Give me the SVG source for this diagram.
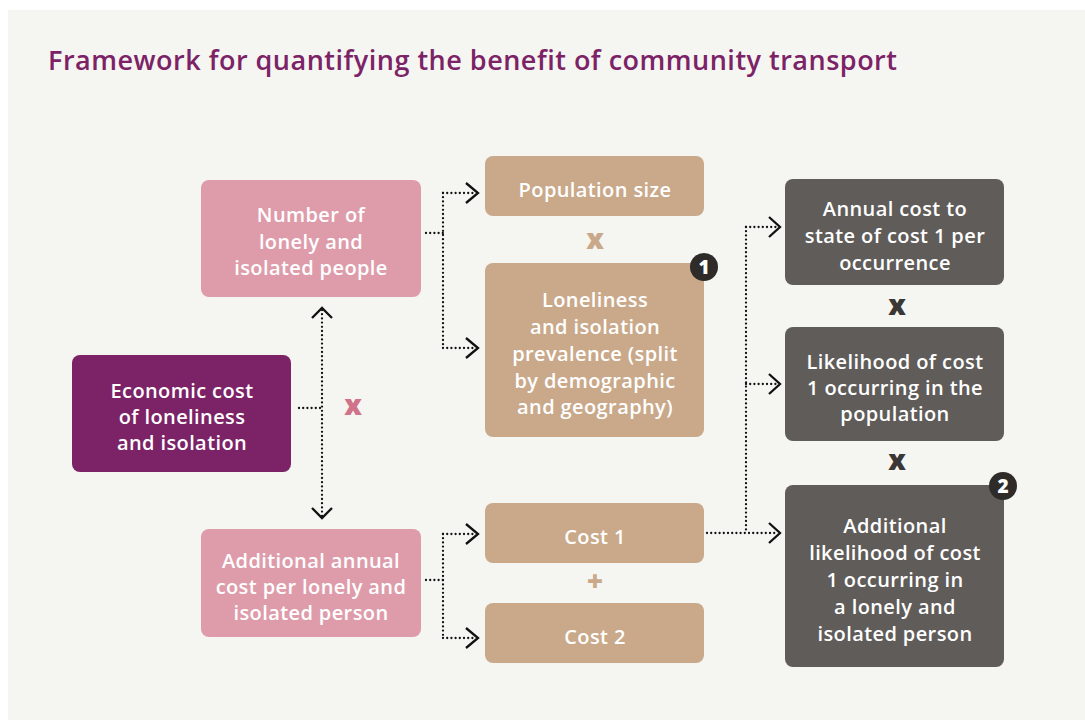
<svg xmlns="http://www.w3.org/2000/svg" width="1085" height="720" viewBox="0 0 1085 720">
<style>
.t{font-family:"Open Sans","Liberation Sans",sans-serif;font-weight:600;fill:#fff;font-size:20px;letter-spacing:0.4px;text-anchor:middle}
.op{font-family:"Open Sans","Liberation Sans",sans-serif;font-weight:800;font-size:28px;text-anchor:middle}
.dot{fill:none;stroke:#111;stroke-width:2.3;stroke-linecap:round;stroke-dasharray:0 4.2}
.ah{fill:none;stroke:#111;stroke-width:2.3;stroke-linejoin:miter}
.pink{fill:#de9cab}.purple{fill:#7c2266}.tan{fill:#c9a98a}.grey{fill:#5f5c59}
.badge{fill:#2f2b29}
.bt{font-family:"Open Sans","Liberation Sans",sans-serif;font-weight:800;font-size:19px;fill:#fff;text-anchor:middle}
</style>
<rect width="1085" height="720" fill="#ffffff"/>
<rect x="8" y="10" width="1077" height="710" fill="#f5f5f1"/>
<text x="48" y="70" font-family="'Open Sans','Liberation Sans',sans-serif" font-weight="600" font-size="27" letter-spacing="0.5" fill="#7c2266">Framework for quantifying the benefit of community transport</text>

<g id="connectors">
<path class="dot" d="M299,408 H322"/>
<path class="dot" d="M322,310 V516"/>
<path class="ah" d="M312,318 L322,308 L332,318"/>
<path class="ah" d="M312,508 L322,518 L332,508"/>

<path class="dot" d="M426,233 H443"/>
<path class="dot" d="M443,193 V348"/>
<path class="dot" d="M443,193 H476"/>
<path class="dot" d="M443,348 H476"/>
<path class="ah" d="M466,183 L478,193 L466,203"/>
<path class="ah" d="M466,338 L478,348 L466,358"/>

<path class="dot" d="M426,580 H443"/>
<path class="dot" d="M443,534 V638"/>
<path class="dot" d="M443,534 H476"/>
<path class="dot" d="M443,638 H476"/>
<path class="ah" d="M466,524 L478,534 L466,544"/>
<path class="ah" d="M466,628 L478,638 L466,648"/>

<path class="dot" d="M707,533 H778"/>
<path class="dot" d="M746,227 V533"/>
<path class="dot" d="M746,227 H778"/>
<path class="dot" d="M746,384 H778"/>
<path class="ah" d="M769,217 L780,227 L769,237"/>
<path class="ah" d="M769,374 L780,384 L769,394"/>
<path class="ah" d="M769,523 L780,533 L769,543"/>
</g>

<g id="n-number">
<rect class="pink" x="201" y="180" width="220" height="117" rx="8"/>
<text class="t" x="311" y="222">Number of</text>
<text class="t" x="311" y="249">lonely and</text>
<text class="t" x="311" y="275">isolated people</text>
</g>
<g id="n-economic">
<rect class="purple" x="72" y="355" width="219" height="117" rx="8"/>
<text class="t" x="182" y="398">Economic cost</text>
<text class="t" x="182" y="424">of loneliness</text>
<text class="t" x="182" y="450">and isolation</text>
</g>
<g id="n-additional-annual">
<rect class="pink" x="201" y="529" width="220" height="108" rx="8"/>
<text class="t" x="311" y="568">Additional annual</text>
<text class="t" x="311" y="594">cost per lonely and</text>
<text class="t" x="311" y="620">isolated person</text>
</g>
<g id="n-population">
<rect class="tan" x="485" y="156" width="219" height="60" rx="8"/>
<text class="t" x="595" y="197">Population size</text>
</g>
<g id="n-prevalence">
<rect class="tan" x="485" y="263" width="219" height="174" rx="8"/>
<text class="t" x="595" y="307">Loneliness</text>
<text class="t" x="595" y="334">and isolation</text>
<text class="t" x="595" y="361">prevalence (split</text>
<text class="t" x="595" y="388">by demographic</text>
<text class="t" x="595" y="414">and geography)</text>
</g>
<g id="badge-1">
<circle class="badge" cx="704" cy="267" r="14"/>
<text class="bt" x="704" y="274">1</text>
</g>
<g id="n-cost1">
<rect class="tan" x="485" y="503" width="219" height="60" rx="8"/>
<text class="t" x="595" y="544">Cost 1</text>
</g>
<g id="n-cost2">
<rect class="tan" x="485" y="603" width="219" height="60" rx="8"/>
<text class="t" x="595" y="644">Cost 2</text>
</g>
<g id="n-annual-state">
<rect class="grey" x="785" y="179" width="219" height="106" rx="8"/>
<text class="t" x="895" y="216">Annual cost to</text>
<text class="t" x="895" y="243">state of cost 1 per</text>
<text class="t" x="895" y="270">occurrence</text>
</g>
<g id="n-likelihood">
<rect class="grey" x="785" y="327" width="219" height="114" rx="8"/>
<text class="t" x="895" y="369">Likelihood of cost</text>
<text class="t" x="895" y="395">1 occurring in the</text>
<text class="t" x="895" y="421">population</text>
</g>
<g id="n-additional-likelihood">
<rect class="grey" x="785" y="485" width="219" height="182" rx="8"/>
<text class="t" x="895" y="533">Additional</text>
<text class="t" x="895" y="560">likelihood of cost</text>
<text class="t" x="895" y="587">1 occurring in</text>
<text class="t" x="895" y="614">a lonely and</text>
<text class="t" x="895" y="641">isolated person</text>
</g>
<g id="badge-2">
<circle class="badge" cx="1003" cy="486" r="14"/>
<text class="bt" x="1003" y="493">2</text>
</g>

<g id="operators">
<text class="op" x="595" y="249" fill="#c9a98a">x</text>
<text class="op" x="595" y="591" fill="#c9a98a">+</text>
<text class="op" x="353" y="415" fill="#d0738a">x</text>
<text class="op" x="897" y="315" fill="#3a3735">x</text>
<text class="op" x="897" y="470" fill="#3a3735">x</text>
</g>
</svg>
